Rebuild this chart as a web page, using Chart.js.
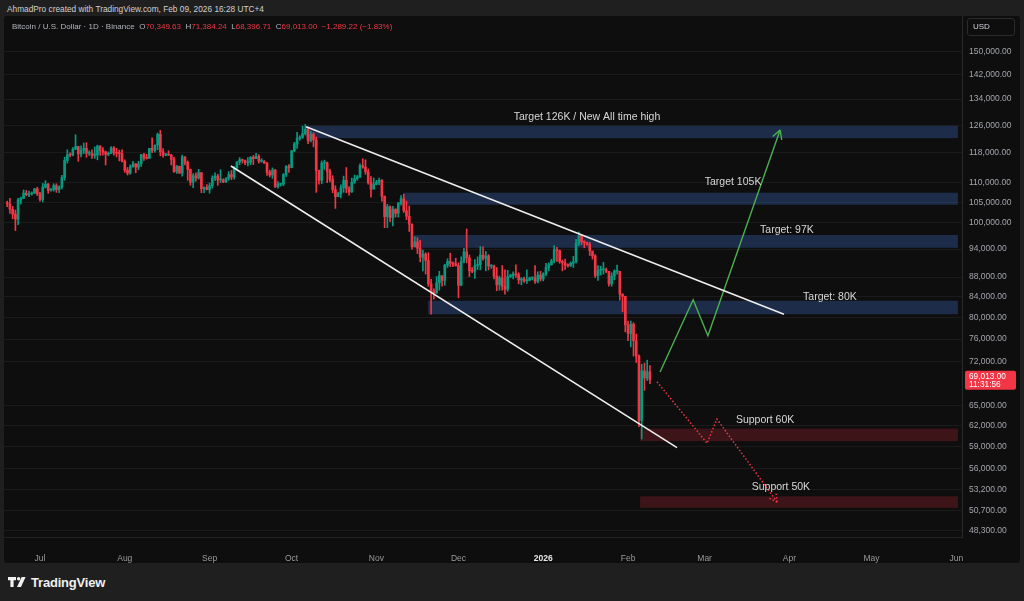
<!DOCTYPE html>
<html>
<head>
<meta charset="utf-8">
<script src="https://cdn.jsdelivr.net/npm/chart.js@4.4.1/dist/chart.umd.min.js"></script>
<style>
  html, body { margin: 0; padding: 0; width: 1024px; height: 601px; overflow: hidden; background: #1f1f1f; font-family: "Liberation Sans", Arial, sans-serif; }
  #top { position: absolute; left: 7px; top: 4px; font-size: 8.3px; color: #d0d0d0; white-space: nowrap; }
  #panel { position: absolute; left: 4px; top: 16px; width: 1016px; height: 547px; background: #0e0e0e; border-radius: 3px; overflow: hidden; }
  #legend { position: absolute; left: 12px; top: 22px; font-size: 8px; color: #b2b5be; white-space: nowrap; z-index: 2; }
  #legend .r { color: #f23645; }
  #usd { position: absolute; left: 967px; top: 18px; width: 48px; height: 18px; border: 1px solid #2b2b2b; border-radius: 3px; box-sizing: border-box; font-size: 8px; line-height: 16px; padding-left: 5px; color: #d1d4dc; z-index: 2; }
  #logo { position: absolute; left: 8px; top: 574px; height: 16px; display: flex; align-items: center; color: #f0f0f0; font-weight: bold; font-size: 13px; letter-spacing: -0.2px; }
  #logo svg { margin-right: 5px; }
</style>
</head>
<body>
<div id="top">AhmadPro created with TradingView.com, Feb 09, 2026 16:28 UTC+4</div>
<div id="panel"><canvas id="chart" width="1016" height="547"></canvas></div>
<div id="legend">Bitcoin / U.S. Dollar · 1D · Binance&nbsp;&nbsp;O<span class="r">70,349.63</span>&nbsp;&nbsp;H<span class="r">71,384.24</span>&nbsp;&nbsp;L<span class="r">68,396.71</span>&nbsp;&nbsp;C<span class="r">69,013.00</span>&nbsp;&nbsp;<span class="r">−1,289.22 (−1.83%)</span></div>
<div id="usd">USD</div>
<div id="logo"><svg width="18" height="12" viewBox="0 0 18 12"><path d="M0 1h8v3.2H5.6V11H2.4V4.2H0z" fill="#f0f0f0"/><circle cx="10.6" cy="2.7" r="1.7" fill="#f0f0f0"/><path d="M13.6 1H17.6L13 11H9z" fill="#f0f0f0"/></svg>TradingView</div>

<script>
// daily candles, BTC/USD, first candle = Jun 19 2025 (day -12, day 0 = Jul 1 2025), values in thousands
const firstDay = -12;
const firstOpen = 104.9;
const closes = [
  104.6, 103.3, 102.1, 100.9, 105.6, 106.0, 107.3, 106.9, 107.1, 107.3, 108.4, 107.1,
  105.7, 108.8, 109.6, 108.0, 108.2, 109.2, 108.2, 108.9, 111.3, 115.9, 117.5, 117.4, 119.1, 119.8, 117.7, 118.7,
  119.3, 117.9, 117.9, 117.3, 117.4, 119.9, 118.7, 118.3, 117.6, 117.9, 119.4, 118.0, 117.9, 117.8, 115.7,
  113.3, 112.5, 114.2, 115.0, 114.1, 115.0, 117.5, 116.6, 116.5, 119.3, 118.7, 120.2, 123.3, 118.3, 117.4, 117.5,
  117.4, 116.2, 112.9, 114.3, 112.5, 116.9, 115.4, 113.5, 110.1, 111.8, 111.2, 112.6, 108.4, 108.8, 108.2,
  109.2, 111.2, 111.7, 110.7, 110.7, 110.2, 111.1, 112.1, 111.5, 113.9, 115.5, 116.1, 115.9, 115.3, 115.4,
  116.8, 116.4, 117.1, 115.7, 115.7, 115.2, 112.7, 112.0, 113.3, 109.0, 109.6, 109.6, 112.1, 114.3, 114.0,
  118.6, 120.5, 122.2, 122.4, 123.5, 124.7, 121.4, 123.3, 121.7, 113.2, 110.6, 115.2, 115.3, 113.0, 110.8, 108.2,
  106.4, 107.2, 108.7, 110.6, 108.5, 107.6, 110.1, 111.0, 111.6, 114.5, 114.1, 112.9, 110.0, 108.3, 109.6,
  110.1, 110.6, 106.5, 101.5, 103.9, 101.3, 103.3, 102.3, 104.7, 105.9, 102.9, 101.6, 99.7, 94.5, 95.6,
  94.2, 92.2, 92.9, 91.5, 86.6, 85.1, 84.7, 86.8, 88.3, 87.3, 90.5, 91.3, 90.9, 90.8, 90.4,
  86.3, 91.3, 93.4, 92.1, 89.3, 89.2, 90.4, 90.6, 92.7, 92.0, 92.5, 90.3, 90.3, 88.2, 86.4, 87.8,
  86.1, 85.5, 88.1, 88.3, 88.6, 88.5, 87.4, 87.6, 87.2, 87.3, 87.8, 87.8, 87.1, 88.4, 87.6,
  88.7, 90.0, 90.6, 91.4, 93.9, 93.7, 91.3, 91.0, 90.5, 90.4, 90.9, 91.2, 95.3, 97.0, 95.6, 95.5,
  95.1, 93.6, 92.5, 88.3, 89.4, 89.5, 89.5, 89.2, 86.6, 88.2, 89.2, 89.2, 84.5, 84.1, 78.6,
  77.0, 78.7, 75.7, 73.0, 62.7, 70.5, 69.3, 70.35, 69.013
];
const highs = [
  105.3, 106.0, 104.0, 103.1, 106.0, 106.3, 108.1, 108.0, 107.8, 107.6, 108.5, 108.8,
  107.5, 109.8, 110.5, 109.8, 108.5, 109.7, 109.7, 109.2, 111.9, 116.8, 118.9, 118.0, 119.5, 123.2, 119.9, 120.0,
  120.8, 120.9, 118.6, 118.9, 119.7, 120.2, 120.1, 119.5, 118.5, 118.3, 119.8, 119.8, 119.3, 118.8, 118.9,
  116.1, 114.0, 114.7, 115.7, 115.1, 115.7, 117.6, 117.9, 117.6, 119.3, 122.3, 120.3, 123.7, 124.5, 119.2, 117.9,
  118.6, 117.6, 116.8, 114.6, 114.4, 117.4, 117.0, 115.8, 113.6, 112.4, 112.6, 113.5, 112.7, 108.9, 109.5,
  109.9, 111.8, 112.6, 112.2, 113.4, 111.0, 111.3, 112.9, 113.2, 114.3, 115.6, 116.7, 116.3, 116.0, 116.7,
  117.0, 117.3, 117.9, 117.5, 116.4, 115.9, 115.4, 113.3, 113.9, 113.5, 110.3, 109.8, 112.4, 114.5, 114.8,
  118.7, 121.0, 123.9, 122.9, 125.7, 126.2, 125.1, 124.2, 123.8, 122.5, 113.3, 115.8, 116.0, 115.5, 113.6, 111.8,
  109.2, 107.5, 109.4, 111.7, 114.0, 109.0, 111.2, 112.0, 111.9, 115.0, 116.4, 116.1, 113.6, 111.6, 111.2,
  110.6, 111.2, 110.8, 106.6, 104.5, 104.1, 104.0, 103.4, 105.0, 106.7, 107.0, 105.3, 104.1, 99.8, 96.8,
  96.6, 96.0, 93.8, 93.2, 93.2, 87.5, 85.6, 88.1, 89.2, 88.2, 90.7, 91.9, 93.1, 91.2, 92.0,
  91.0, 92.3, 94.2, 98.6, 92.7, 90.0, 91.7, 92.3, 94.6, 94.5, 93.5, 92.8, 90.6, 90.5, 90.0, 88.2,
  90.4, 89.5, 89.4, 88.6, 89.1, 90.6, 88.9, 87.9, 88.0, 89.5, 88.0, 88.0, 90.4, 89.1, 89.2,
  88.9, 90.9, 91.0, 91.8, 94.8, 94.4, 93.8, 91.6, 91.8, 90.8, 91.2, 92.4, 96.2, 97.9, 97.2, 95.9,
  95.6, 95.5, 93.4, 92.8, 90.4, 90.3, 91.1, 89.9, 89.2, 88.9, 89.5, 90.5, 89.2, 84.6, 84.0,
  79.3, 79.3, 79.0, 76.9, 73.2, 71.6, 71.8, 72.3, 71.384
];
const lows = [
  103.9, 102.3, 101.0, 98.2, 99.6, 104.6, 105.9, 106.6, 106.4, 106.8, 107.2, 106.7,
  105.3, 105.1, 108.6, 107.3, 107.8, 107.8, 107.5, 107.4, 108.4, 110.6, 115.2, 116.9, 117.2, 118.9, 115.7, 116.9,
  117.8, 116.8, 117.3, 116.5, 116.5, 116.1, 117.3, 117.4, 114.7, 117.2, 117.8, 117.4, 116.9, 115.8, 115.5,
  112.7, 112.0, 112.2, 114.1, 112.6, 113.4, 114.3, 115.9, 116.3, 116.5, 118.1, 118.2, 118.9, 117.2, 116.8, 117.2,
  117.3, 114.7, 112.7, 112.4, 112.4, 111.7, 114.7, 110.6, 109.3, 108.7, 110.4, 110.9, 107.4, 107.4, 108.1,
  107.3, 108.6, 110.5, 109.3, 110.0, 110.0, 110.0, 110.6, 110.8, 110.9, 113.4, 114.8, 115.2, 114.8, 114.4,
  114.8, 114.8, 116.4, 115.2, 115.4, 115.1, 111.9, 111.5, 111.1, 108.7, 108.6, 109.1, 109.2, 111.6, 112.7,
  113.9, 118.3, 119.3, 121.6, 122.1, 123.1, 120.6, 121.1, 119.7, 107.5, 109.6, 109.7, 113.5, 110.0, 110.2, 107.4,
  103.5, 106.4, 106.1, 107.5, 107.4, 106.8, 107.5, 109.8, 110.6, 111.3, 113.8, 112.2, 109.6, 106.3, 108.7,
  109.4, 109.5, 105.3, 98.9, 98.9, 100.3, 99.3, 101.4, 101.4, 104.3, 102.5, 100.8, 98.0, 94.0, 94.6,
  93.0, 91.2, 89.3, 88.6, 86.1, 80.6, 83.5, 84.7, 85.3, 86.1, 86.3, 90.0, 90.2, 90.2, 90.3,
  83.8, 86.2, 91.0, 91.0, 88.1, 88.9, 87.7, 89.6, 89.5, 91.6, 89.3, 89.5, 89.8, 87.6, 85.2, 85.3,
  85.3, 84.5, 85.1, 87.9, 87.6, 87.9, 86.6, 86.4, 86.9, 86.7, 87.2, 87.4, 86.7, 86.8, 87.2,
  87.2, 88.3, 89.3, 90.5, 91.0, 91.3, 90.9, 89.3, 89.6, 90.1, 90.2, 90.0, 91.0, 94.8, 95.0, 94.3,
  94.9, 92.6, 91.8, 87.9, 87.3, 88.4, 88.6, 88.9, 86.1, 86.1, 87.4, 88.6, 83.3, 81.1, 77.3,
  75.7, 74.6, 73.0, 71.9, 61.8, 60.0, 67.3, 68.9, 68.397
];

// time axis: month starts as days from Jul 1 2025
const monthDays = [0, 31, 62, 92, 123, 153, 184, 215, 243, 274, 304, 335];
const monthLabels = ["Jul", "Aug", "Sep", "Oct", "Nov", "Dec", "2026", "Feb", "Mar", "Apr", "May", "Jun"];
const priceTicks = [48300, 50700, 53200, 56000, 59000, 62000, 65000, 72000, 76000, 80000, 84000,
  88000, 94000, 100000, 105000, 110000, 118000, 126000, 134000, 142000, 150000];
const lastPrice = 69013;
const lastTime = "11:31:56";

// drawn zones (day from / price top / price bottom) and their captions
const zoneNames = ["Target 126K / New All time high", "Target 105K", "Target: 97K", "Target: 80K", "Support 60K", "Support 50K"];
const zoneFrom = [97.3, 132.7, 136.7, 141.9, 219.4, 219.4];
const zoneTo = 335.6;
const zoneTop = [125800, 107400, 97200, 83200, 61500, 52400];
const zoneBottom = [122200, 104400, 94300, 80600, 59700, 51000];
const zoneKind = ["target", "target", "target", "target", "support", "support"];
const captionDay = [200, 253.4, 273.1, 288.8, 265.1, 270.9];
const captionPrice = [128500, 110200, 98400, 84000, 62800, 53600];

// trend lines and projected paths: [day, price]
const upperLine = [[97.3, 125500], [272, 80600]];
const lowerLine = [[69.8, 114400], [232.9, 58800]];
const bullPath = [[226.7, 70300], [238.8, 83400], [244.2, 76600], [270.6, 124600]];
const bearPath = [[225.6, 68700], [243.9, 59400], [247.5, 62900], [269.5, 51700]];

const UP = "#089981", DOWN = "#f23645";
const FONT = '"Liberation Sans", Arial, sans-serif';
Chart.defaults.font.family = FONT;

const opens = closes.map((c, i) => i === 0 ? firstOpen : closes[i - 1]);
const bodies = closes.map((c, i) => ({ x: firstDay + i, y: [opens[i] * 1000, c * 1000] }));
const wicks = closes.map((c, i) => ({ x: firstDay + i, y: [lows[i] * 1000, highs[i] * 1000] }));
const colors = closes.map((c, i) => c >= opens[i] ? UP : DOWN);
const pts = arr => arr.map(p => ({ x: p[0], y: p[1] }));

function lineSet(arr, color, width, dash) {
  return { type: "line", data: pts(arr), borderColor: color, borderWidth: width, borderDash: dash || [],
    pointRadius: 0, tension: 0, order: -1 };
}

// no extra label padding, the pane fills the canvas
function noPad(s) {
  s.paddingTop = 0; s.paddingBottom = 0; s.paddingLeft = 0; s.paddingRight = 0;
}

// zones under the candles
const zonesPlugin = {
  id: "zones",
  beforeDatasetsDraw(chart) {
    const { ctx, scales: { x, y } } = chart;
    ctx.save();
    zoneNames.forEach((n, i) => {
      const x1 = x.getPixelForValue(zoneFrom[i]), x2 = x.getPixelForValue(zoneTo);
      const y1 = y.getPixelForValue(zoneTop[i]), y2 = y.getPixelForValue(zoneBottom[i]);
      ctx.fillStyle = zoneKind[i] === "target" ? "rgba(45,78,140,0.47)" : "rgba(120,30,38,0.45)";
      ctx.fillRect(x1, y1, x2 - x1, y2 - y1);
    });
    ctx.restore();
  }
};

function arrowHead(ctx, x, y, path, color, dash) {
  const a = x.getPixelForValue(path[path.length - 2][0]), b = y.getPixelForValue(path[path.length - 2][1]);
  const c = x.getPixelForValue(path[path.length - 1][0]), d = y.getPixelForValue(path[path.length - 1][1]);
  const ang = Math.atan2(d - b, c - a);
  ctx.save();
  ctx.strokeStyle = color;
  ctx.lineWidth = 1.4;
  ctx.setLineDash(dash);
  [-0.5, 0.5].forEach(s => {
    ctx.beginPath();
    ctx.moveTo(c, d);
    ctx.lineTo(c - 10 * Math.cos(ang + s), d - 10 * Math.sin(ang + s));
    ctx.stroke();
  });
  ctx.restore();
}

// captions, arrow heads and last price badge
const overlayPlugin = {
  id: "overlay",
  afterDatasetsDraw(chart) {
    const { ctx, scales: { x, y } } = chart;
    ctx.save();
    ctx.font = "10.5px " + FONT;
    ctx.fillStyle = "#d8d8d8";
    ctx.textAlign = "center";
    ctx.textBaseline = "middle";
    zoneNames.forEach((n, i) => ctx.fillText(n, x.getPixelForValue(captionDay[i]), y.getPixelForValue(captionPrice[i])));
    ctx.restore();

    arrowHead(ctx, x, y, bullPath, "#4caf50", []);
    arrowHead(ctx, x, y, bearPath, "#f23645", [1.5, 2]);

    const py = y.getPixelForValue(lastPrice);
    ctx.save();
    ctx.fillStyle = DOWN;
    ctx.beginPath();
    ctx.roundRect(x.right + 3, py - 9, 51, 19, 2);
    ctx.fill();
    ctx.fillStyle = "#ffffff";
    ctx.font = "8.3px " + FONT;
    ctx.textBaseline = "middle";
    ctx.fillText(lastPrice.toLocaleString("en-US", { minimumFractionDigits: 2 }), x.right + 7, py - 3.5);
    ctx.fillText(lastTime, x.right + 7, py + 5);
    ctx.restore();
  }
};

new Chart(document.getElementById("chart"), {
  type: "bar",
  data: {
    datasets: [
      lineSet(upperLine, "#eeeeee", 1.6),
      lineSet(lowerLine, "#eeeeee", 1.6),
      lineSet(bullPath, "#4caf50", 1.4),
      lineSet(bearPath, "#f23645", 1.5, [1.5, 2]),
      { data: bodies, backgroundColor: colors, barThickness: 2, minBarLength: 1, grouped: false, order: 0 },
      { data: wicks, backgroundColor: colors, barThickness: 1, grouped: false, order: 1 }
    ]
  },
  options: {
    responsive: false,
    animation: false,
    devicePixelRatio: 1,
    layout: { padding: 0 },
    plugins: { legend: { display: false }, tooltip: { enabled: false } },
    scales: {
      x: {
        type: "linear",
        min: -13.16,
        max: 337.1,
        offset: false,
        grid: { display: false },
        border: { display: true, color: "#222222" },
        afterBuildTicks: s => { s.ticks = monthDays.map(v => ({ value: v })); },
        afterFit: s => { s.height = 26; noPad(s); },
        ticks: {
          autoSkip: false,
          maxRotation: 0,
          padding: 9,
          callback: v => monthLabels[monthDays.indexOf(v)],
          color: c => c.tick && c.tick.value === 184 ? "#e8e8e8" : "#9a9a9a",
          font: c => ({ size: 8.5, weight: c.tick && c.tick.value === 184 ? "bold" : "normal" })
        }
      },
      y: {
        type: "logarithmic",
        position: "right",
        min: 47600,
        max: 163100,
        grid: { color: "rgba(255,255,255,0.055)", drawTicks: false },
        border: { color: "#2a2a2a" },
        afterBuildTicks: s => { s.ticks = priceTicks.map(v => ({ value: v })); },
        afterFit: s => { s.width = 58; noPad(s); },
        ticks: {
          autoSkip: false,
          padding: 7,
          color: "#a3a6ad",
          font: { size: 8.5 },
          callback: v => Number(v).toLocaleString("en-US", { minimumFractionDigits: 2 })
        }
      }
    }
  },
  plugins: [zonesPlugin, overlayPlugin]
});
</script>
</body>
</html>
